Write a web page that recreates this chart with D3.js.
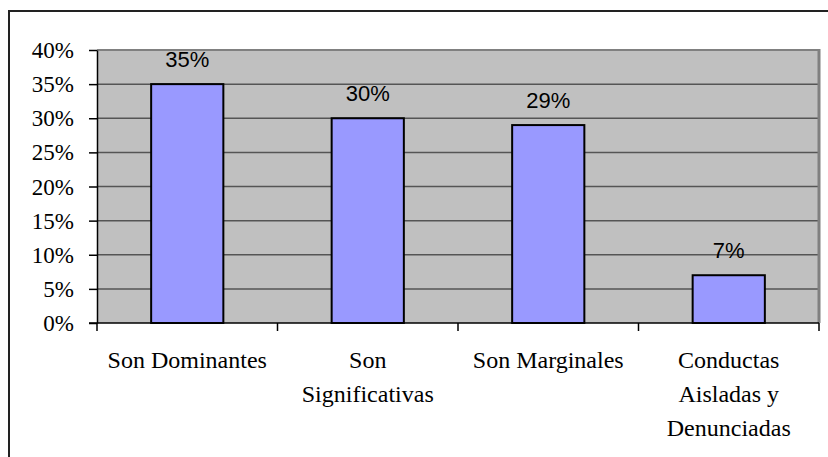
<!DOCTYPE html>
<html>
<head>
<meta charset="utf-8">
<script src="https://cdn.jsdelivr.net/npm/d3@7"></script>
<style>
  body { margin: 0; background: #fff; }
  svg { display: block; }
  .serif { font-family: "Liberation Serif", "Times New Roman", serif; }
  .sans { font-family: "Liberation Sans", Arial, sans-serif; }
</style>
</head>
<body>
<div id="chart"></div>
<script>
// data
const categories = ["Son Dominantes", "Son Significativas", "Son Marginales", "Conductas Aisladas y Denunciadas"];
const categoryLines = [
    ["Son Dominantes"],
    ["Son", "Significativas"],
    ["Son Marginales"],
    ["Conductas", "Aisladas y", "Denunciadas"]
];
const values = [0.35, 0.30, 0.29, 0.07];
const yTicks = [0, 0.05, 0.10, 0.15, 0.20, 0.25, 0.30, 0.35, 0.40];

const W = 828, H = 457;
const plot = {left: 97, right: 819, top: 50, bottom: 323};

const svg = d3.select("#chart").append("svg")
    .attr("width", W)
    .attr("height", H);

// outer frame (runs off the right and bottom edges)
svg.append("rect")
    .attr("x", 9)
    .attr("y", 11)
    .attr("width", 840)
    .attr("height", 470)
    .attr("fill", "none")
    .attr("stroke", "#222")
    .attr("stroke-width", 2);

const x = d3.scaleBand()
    .domain(categories)
    .range([plot.left, plot.right])
    .paddingInner(0.6)
    .paddingOuter(0.3);

const y = d3.scaleLinear()
    .domain([0, 0.4])
    .range([plot.bottom, plot.top]);

// plot background
svg.append("rect")
    .attr("x", plot.left)
    .attr("y", plot.top)
    .attr("width", plot.right - plot.left)
    .attr("height", plot.bottom - plot.top)
    .attr("fill", "#c0c0c0");

// gridlines
svg.selectAll(".grid")
    .data(yTicks.filter(d => d > 0 && d < 0.4))
  .enter().append("line")
    .attr("class", "grid")
    .attr("x1", plot.left)
    .attr("x2", plot.right)
    .attr("y1", d => y(d))
    .attr("y2", d => y(d))
    .attr("stroke", "#555")
    .attr("stroke-width", 1.5);

// plot border, grey
svg.append("line")
    .attr("x1", plot.left).attr("x2", plot.right)
    .attr("y1", plot.top).attr("y2", plot.top)
    .attr("stroke", "#808080").attr("stroke-width", 2);
svg.append("line")
    .attr("x1", plot.right).attr("x2", plot.right)
    .attr("y1", plot.top - 1).attr("y2", plot.bottom)
    .attr("stroke", "#808080").attr("stroke-width", 3);

// bars
svg.selectAll(".bar")
    .data(values)
  .enter().append("rect")
    .attr("class", "bar")
    .attr("x", (d, i) => x(categories[i]))
    .attr("y", d => y(d))
    .attr("width", x.bandwidth())
    .attr("height", d => y(0) - y(d))
    .attr("fill", "#9999ff")
    .attr("stroke", "#000")
    .attr("stroke-width", 2);

// value labels
svg.selectAll(".val")
    .data(values)
  .enter().append("text")
    .attr("class", "val sans")
    .attr("x", (d, i) => x(categories[i]) + x.bandwidth() / 2)
    .attr("y", d => y(d) - 17)
    .attr("text-anchor", "middle")
    .attr("font-size", 22)
    .attr("fill", "#000")
    .text(d => Math.round(d * 100) + "%");

// y axis: line and ticks from d3, labels drawn as serif text
const yAxis = svg.append("g")
    .attr("transform", `translate(${plot.left},0)`)
    .call(d3.axisLeft(y)
        .tickValues(yTicks)
        .tickSize(8)
        .tickSizeOuter(0)
        .tickFormat(""));
yAxis.select(".domain").attr("stroke", "#000").attr("stroke-width", 1.5);
yAxis.selectAll(".tick line").attr("stroke", "#000").attr("stroke-width", 1.5);

svg.selectAll(".ylab")
    .data(yTicks)
  .enter().append("text")
    .attr("class", "ylab serif")
    .attr("x", 74)
    .attr("y", d => y(d) + 8)
    .attr("text-anchor", "end")
    .attr("font-size", 23)
    .attr("fill", "#000")
    .text(d => Math.round(d * 100) + "%");

// x axis line and tick marks at the category boundaries
svg.append("line")
    .attr("x1", plot.left - 8).attr("x2", plot.right)
    .attr("y1", plot.bottom).attr("y2", plot.bottom)
    .attr("stroke", "#000").attr("stroke-width", 1.5);
svg.selectAll(".xtick")
    .data(d3.range(categories.length + 1))
  .enter().append("line")
    .attr("class", "xtick")
    .attr("x1", i => plot.left + i * x.step())
    .attr("x2", i => plot.left + i * x.step())
    .attr("y1", plot.bottom)
    .attr("y2", plot.bottom + 8)
    .attr("stroke", "#000")
    .attr("stroke-width", 1.5);

// category labels
const catText = svg.selectAll(".cat")
    .data(categories)
  .enter().append("text")
    .attr("class", "cat serif")
    .attr("text-anchor", "middle")
    .attr("font-size", 24)
    .attr("fill", "#000");
catText.selectAll("tspan")
    .data((d, i) => categoryLines[i].map(t => ({t, cx: x(d) + x.bandwidth() / 2})))
  .enter().append("tspan")
    .attr("x", d => d.cx)
    .attr("y", (d, j) => 368 + j * 34)
    .text(d => d.t);
</script>
</body>
</html>
